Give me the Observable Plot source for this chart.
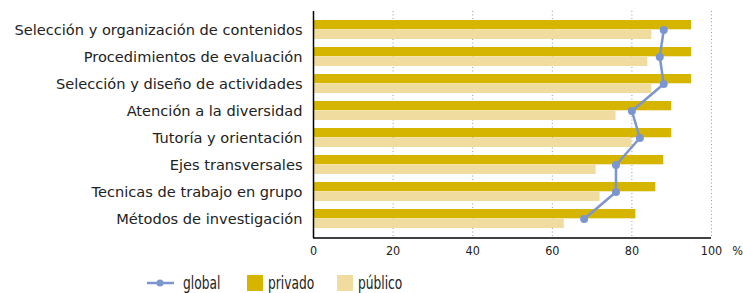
<!DOCTYPE html>
<html>
<head>
<meta charset="utf-8">
<script src="https://cdn.jsdelivr.net/npm/d3@7"></script>
<script src="https://cdn.jsdelivr.net/npm/@observablehq/plot@0.6"></script>
<style>
  body { margin: 0; background: #fff; font-family: "DejaVu Sans", sans-serif; }
  #chart { width: 743px; }
  .legend { position: relative; height: 28px; width: 743px; font-size: 17px; color: #222; font-family: "DejaVu Sans Condensed", "Liberation Sans Narrow", Roboto, sans-serif; }
  .legend .item { position: absolute; top: 4px; height: 28px; display: flex; align-items: center; }
  .legend .txt { display: inline-block; transform: scaleX(0.8); transform-origin: left center; }
  .sw { width: 16px; height: 16px; display: inline-block; margin-right: 5px; }
</style>
</head>
<body>
<div id="chart"></div>
<script>
const categories = [
  "Selección y organización de contenidos",
  "Procedimientos de evaluación",
  "Selección y diseño de actividades",
  "Atención a la diversidad",
  "Tutoría y orientación",
  "Ejes transversales",
  "Tecnicas de trabajo en grupo",
  "Métodos de investigación"
];
const privado = [95, 95, 95, 90, 90, 88, 86, 81];
const publico = [85, 84, 85, 76, 80, 71, 72, 63];
const global = [88, 87, 88, 80, 82, 76, 76, 68];
const xTicks = [0, 20, 40, 60, 80, 100];
const gridTicks = [20, 40, 60, 80, 100];

const COL_PRIV = "#d6b500";
const COL_PUB = "#f0dc9e";
const COL_GLOB = "#7b96cf";
const NARROW = "'DejaVu Sans Condensed', 'Liberation Sans Narrow', Roboto, sans-serif";

const rows = categories.map((c, i) => ({cat: c, privado: privado[i], publico: publico[i], global: global[i]}));

const plot = Plot.plot({
  width: 743,
  height: 265,
  marginTop: 11,
  marginBottom: 27,
  marginLeft: 313,
  marginRight: 32,
  style: {fontFamily: "'DejaVu Sans', sans-serif", fontSize: "14.6px", color: "#222", background: "#fff"},
  x: {domain: [0, 100], ticks: xTicks, label: null},
  y: {domain: categories, padding: 0.29, label: null},
  marks: [
    Plot.ruleX(gridTicks, {stroke: "#999", strokeDasharray: "1,2.5", strokeWidth: 1}),
    Plot.barX(rows, {y: "cat", x: "privado", fill: COL_PRIV, insetBottom: 9.7}),
    Plot.barX(rows, {y: "cat", x: "publico", fill: COL_PUB, insetTop: 9.7}),
    Plot.line(rows, {y: "cat", x: "global", stroke: COL_GLOB, strokeWidth: 2.5}),
    Plot.dot(rows, {y: "cat", x: "global", fill: COL_GLOB, r: 4}),
    Plot.axisY({tickSize: 0, tickPadding: 11, fontSize: "14.6px", label: null}),
    Plot.axisX({ticks: xTicks, tickSize: 0, tickPadding: 8, fontSize: "12.5px", fontFamily: NARROW, label: null}),
    Plot.ruleX([0], {stroke: "#000", strokeWidth: 1.5}),
    Plot.text(["%"], {x: 100, frameAnchor: "bottom", dx: 26, dy: 16, text: d => d, fontSize: "12.5px", fontFamily: NARROW, fill: "#222"})
  ]
});
document.getElementById("chart").appendChild(plot);

// bottom axis line
const svg = d3.select(plot);
const xs = plot.scale("x");
svg.append("line")
  .attr("x1", xs.apply(0)).attr("x2", xs.apply(100))
  .attr("y1", 238).attr("y2", 238)
  .attr("stroke", "#000").attr("stroke-width", 1.5);

// legend
const legend = d3.select("body").append("div").attr("class", "legend");
const g = legend.append("div").attr("class", "item").style("left", "147px");
const gs = g.append("svg").attr("width", 28).attr("height", 12).style("margin-right", "8px");
gs.append("line").attr("x1", 0).attr("x2", 27).attr("y1", 6).attr("y2", 6).attr("stroke", COL_GLOB).attr("stroke-width", 2.5);
gs.append("circle").attr("cx", 13).attr("cy", 6).attr("r", 3.5).attr("fill", COL_GLOB);
g.append("span").attr("class", "txt").text("global");
const p = legend.append("div").attr("class", "item").style("left", "247px");
p.append("span").attr("class", "sw").style("background", COL_PRIV);
p.append("span").attr("class", "txt").text("privado");
const q = legend.append("div").attr("class", "item").style("left", "337px");
q.append("span").attr("class", "sw").style("background", COL_PUB);
q.append("span").attr("class", "txt").text("público");
</script>
</body>
</html>
